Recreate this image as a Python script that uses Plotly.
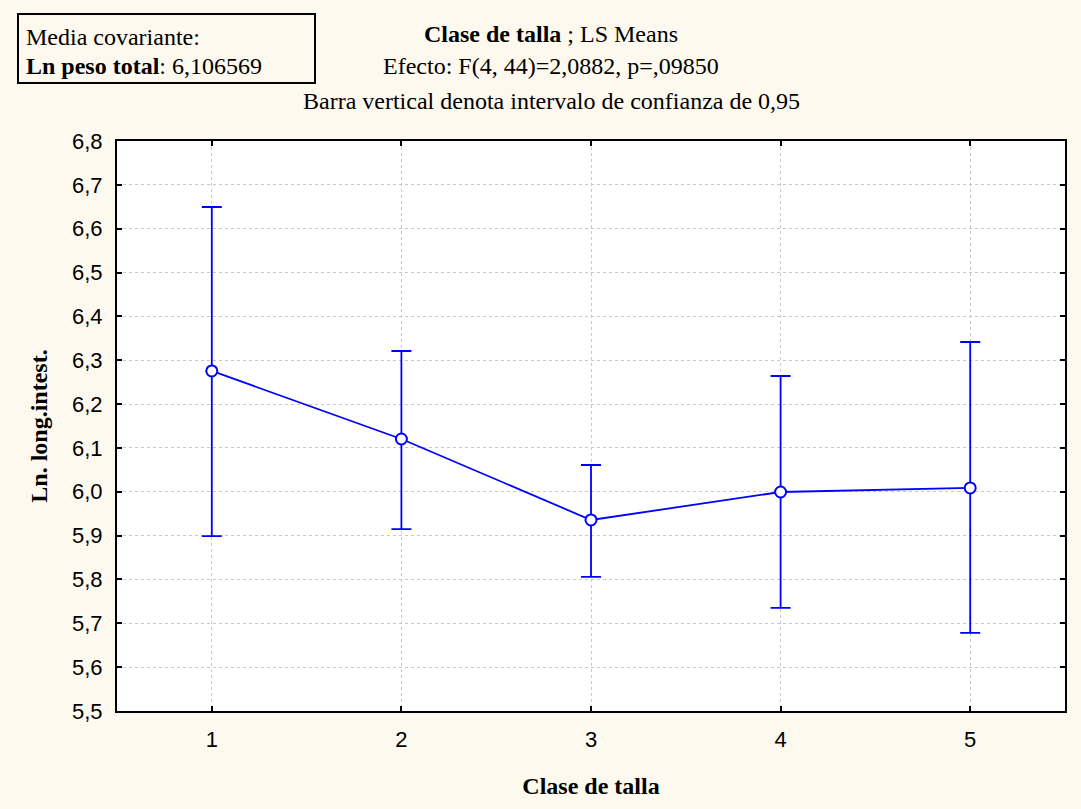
import plotly.graph_objects as go

clases = [1, 2, 3, 4, 5]
medias = [6.2755, 6.1204, 5.9357, 5.9995, 6.0087]
lim_sup = [6.6495, 6.3211, 6.0610, 6.2640, 6.3416]
lim_inf = [5.8990, 5.9150, 5.8057, 5.7350, 5.6780]

err_plus = [s - m for s, m in zip(lim_sup, medias)]
err_minus = [m - i for m, i in zip(medias, lim_inf)]

BLUE = "#0000FF"
BG = "#FDF9EE"
SERIF = "Liberation Serif, Times New Roman, serif"

fig = go.Figure()
fig.add_trace(go.Scatter(
    x=clases, y=medias, mode="lines+markers",
    line=dict(color=BLUE, width=1.8),
    marker=dict(symbol="circle", size=11, color="white", line=dict(color=BLUE, width=2)),
    error_y=dict(type="data", symmetric=False, array=err_plus, arrayminus=err_minus,
                 color=BLUE, thickness=1.8, width=10),
    showlegend=False,
))

axis_common = dict(
    showline=True, linecolor="black", linewidth=2, mirror="ticks",
    ticks="inside", ticklen=5, tickcolor="black", tickwidth=1.5,
    showgrid=True, gridcolor="#C8C8C8", griddash="dot", gridwidth=1,
    zeroline=False, ticklabelstandoff=8,
    tickfont=dict(family="Liberation Sans, Arial", size=22, color="black"),
)

fig.update_xaxes(range=[0.5, 5.5], tickvals=clases, ticktext=[str(c) for c in clases],
                 title=dict(text="<b>Clase de talla</b>", font=dict(family=SERIF, size=24, color="black"), standoff=26),
                 **axis_common)
fig.update_yaxes(range=[5.5, 6.8], dtick=0.1, tick0=5.5, tickformat=".1f",
                 title=dict(text="<b>Ln. long.intest.</b>", font=dict(family=SERIF, size=24, color="black"), standoff=18),
                 **axis_common)

serif = dict(family=SERIF, size=24, color="black")
fig.add_annotation(xref="paper", yref="paper", x=0.458, y=1, yshift=107, xanchor="center", yanchor="middle",
                   text="<b>Clase de talla</b> ; LS Means", showarrow=False, font=serif)
fig.add_annotation(xref="paper", yref="paper", x=0.458, y=1, yshift=75, xanchor="center", yanchor="middle",
                   text="Efecto: F(4, 44)=2,0882, p=,09850", showarrow=False, font=serif)
fig.add_annotation(xref="paper", yref="paper", x=0.458, y=1, yshift=40, xanchor="center", yanchor="middle",
                   text="Barra vertical denota intervalo de confianza de 0,95", showarrow=False, font=serif)

# covariate box
fig.add_shape(type="rect", xref="paper", yref="paper",
              x0=(18 - 117) / 948, x1=(315 - 117) / 948,
              y0=1 + (141 - 83) / 570, y1=1 + (141 - 14) / 570,
              line=dict(color="black", width=2), fillcolor="rgba(0,0,0,0)")
fig.add_annotation(xref="paper", yref="paper", x=(24 - 117) / 948, y=1 + (141 - 37) / 570,
                   xanchor="left", yanchor="middle", text="Media covariante:", showarrow=False, font=serif)
fig.add_annotation(xref="paper", yref="paper", x=(24 - 117) / 948, y=1 + (141 - 66) / 570,
                   xanchor="left", yanchor="middle", text="<b>Ln peso total</b>: 6,106569", showarrow=False, font=serif)

fig.update_layout(
    width=1081, height=809,
    margin=dict(l=117, r=16, t=141, b=98),
    paper_bgcolor=BG, plot_bgcolor="white",
    separators=",.",
)

fig.write_html("out.html")
